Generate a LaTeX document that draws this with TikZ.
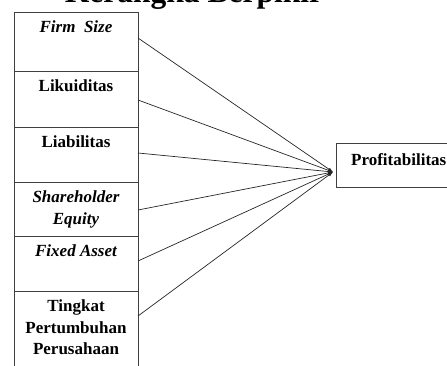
\documentclass[tikz,border=0pt]{standalone}
\usepackage{fontspec}
\setmainfont{Liberation Serif}
\usetikzlibrary{arrows.meta}
\begin{document}
\begin{tikzpicture}[x=1pt,y=1pt,
  cell/.style={draw=black!75, line width=0.9pt, minimum width=124pt, inner sep=0pt, outer sep=0pt},
  lbl/.style={font=\fontsize{17}{21.5}\selectfont\bfseries, align=center, anchor=north, inner sep=0pt},
  conn/.style={draw=black!85, line width=0.7pt, -{Latex[length=5pt,width=3.5pt]}}]
\useasboundingbox (0,0) rectangle (447,365);
\clip (0,0) rectangle (447,365);
% title (cut off at top)
\node[font=\fontsize{31.5}{36}\selectfont\bfseries, anchor=base, inner sep=0pt] (title) at (194,362.5) {Kerangka Berpikir};
% left cells
\node[cell, minimum height=59pt] (fs) at (76,323.5) {};
\node[cell, minimum height=56pt] (lk) at (76,266) {};
\node[cell, minimum height=55pt] (lb) at (76,210.5) {};
\node[cell, minimum height=54pt] (se) at (76,156) {};
\node[cell, minimum height=55pt] (fa) at (76,101.5) {};
\node[cell, minimum height=84pt] (tp) at (76,32) {};
% labels
\node[lbl] (fst) at ([yshift=-9pt]fs.north) {\itshape Firm\ \ Size};
\node[lbl] (lkt) at ([yshift=-9pt]lk.north) {Likuiditas};
\node[lbl] (lbt) at ([yshift=-9pt]lb.north) {Liabilitas};
\node[lbl] (set) at ([yshift=-9pt]se.north) {\itshape Shareholder\\\itshape Equity};
\node[lbl] (fat) at ([yshift=-9pt]fa.north) {\itshape Fixed Asset};
\node[lbl] (tpt) at ([yshift=-9pt]tp.north) {Tingkat\\Pertumbuhan\\Perusahaan};
% right box
\node[cell, minimum width=134pt, minimum height=44pt] (prof) at (403,200) {};
\node[font=\fontsize{17}{21.5}\selectfont\bfseries, anchor=base west, inner sep=0pt] (proft) at (351,199.5) {Profitabilitas};
\coordinate (hub) at (333,193);
% connectors
\draw[conn] ([yshift=3.5pt]fs.east) -- (hub);
\draw[conn] ([yshift=-1pt]lk.east) -- (hub);
\draw[conn] ([yshift=1.5pt]lb.east) -- (hub);
\draw[conn] ([yshift=-1pt]se.east) -- (hub);
\draw[conn] ([yshift=2.5pt]fa.east) -- (hub);
\draw[conn] ([yshift=17pt]tp.east) -- (hub);
\end{tikzpicture}
\end{document}
